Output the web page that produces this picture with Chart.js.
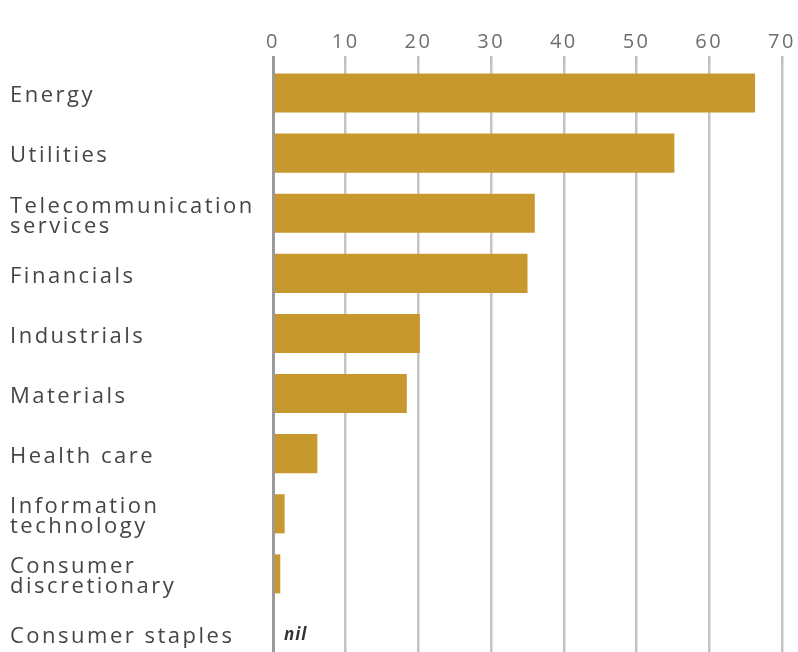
<!DOCTYPE html>
<html>
<head>
<meta charset="utf-8">
<script src="https://cdn.jsdelivr.net/npm/chart.js@4"></script>
<style>
html,body{margin:0;padding:0;background:#fff;overflow:hidden}
#wrap{width:798px;height:677px}
</style>
</head>
<body>
<div id="wrap"><canvas id="c" width="798" height="677"></canvas></div>
<script>
const categories = ["Energy", "Utilities", ["Telecommunication", "services"], "Financials", "Industrials", "Materials", "Health care", ["Information", "technology"], ["Consumer", "discretionary"], "Consumer staples"];
const values = [66.3, 55.2, 36.0, 35.0, 20.2, 18.4, 6.1, 1.6, 1.0, 0];
const xTicks = [0, 10, 20, 30, 40, 50, 60, 70];
const notes = [null, null, null, null, null, null, null, null, null, "nil"];

const LS = '2.5px';
const spacingPlugin = {
  id: 'spacing',
  beforeLayout(c) { c.ctx.letterSpacing = LS; },
  beforeDraw(c) { c.ctx.letterSpacing = LS; }
};
const notePlugin = {
  id: 'notes',
  afterDatasetsDraw(chart) {
    const {ctx, scales: {x, y}} = chart;
    notes.forEach((t, i) => {
      if (!t) return;
      ctx.save();
      ctx.letterSpacing = '1px';
      ctx.font = 'italic bold 17px "Open Sans"';
      ctx.fillStyle = '#333';
      ctx.textBaseline = 'middle';
      ctx.textAlign = 'left';
      ctx.fillText(t, x.getPixelForValue(values[i]) + 11, y.getPixelForValue(i) + 1);
      ctx.restore();
    });
  }
};

new Chart(document.getElementById('c'), {
  type: 'bar',
  data: {
    labels: categories,
    datasets: [{
      data: values,
      backgroundColor: '#C7982E',
      borderWidth: 0,
      categoryPercentage: 1,
      barPercentage: 0.65
    }]
  },
  options: {
    indexAxis: 'y',
    responsive: false,
    animation: false,
    devicePixelRatio: 1,
    layout: { padding: { left: 10, top: 28, right: 16, bottom: 3 } },
    plugins: { legend: { display: false }, tooltip: { enabled: false } },
    scales: {
      x: {
        position: 'top',
        min: 0,
        max: 70,
        afterBuildTicks(s) { s.ticks = xTicks.map(v => ({ value: v })); },
        border: { display: false },
        grid: {
          drawOnChartArea: true,
          drawTicks: true,
          tickLength: 7,
          color: (c) => (c.tick && c.tick.value === 0) ? '#9a9a9a' : '#c4c4c4',
          tickColor: (c) => (c.tick && c.tick.value === 0) ? '#9a9a9a' : '#bdbdbd',
          lineWidth: (c) => (c.tick && c.tick.value === 0) ? 3 : 2.5
        },
        ticks: {
          padding: 2,
          color: '#6e6e6e',
          font: { family: '"Open Sans"', size: 20, lineHeight: 1.2 }
        }
      },
      y: {
        grid: { display: false },
        border: { display: false },
        afterFit(s) { s.width = 263; },
        ticks: {
          crossAlign: 'far',
          labelOffset: 3,
          color: '#454545',
          font: { family: '"Open Sans"', size: 22, lineHeight: '20px' }
        }
      }
    }
  },
  plugins: [spacingPlugin, notePlugin]
});
</script>
</body>
</html>
